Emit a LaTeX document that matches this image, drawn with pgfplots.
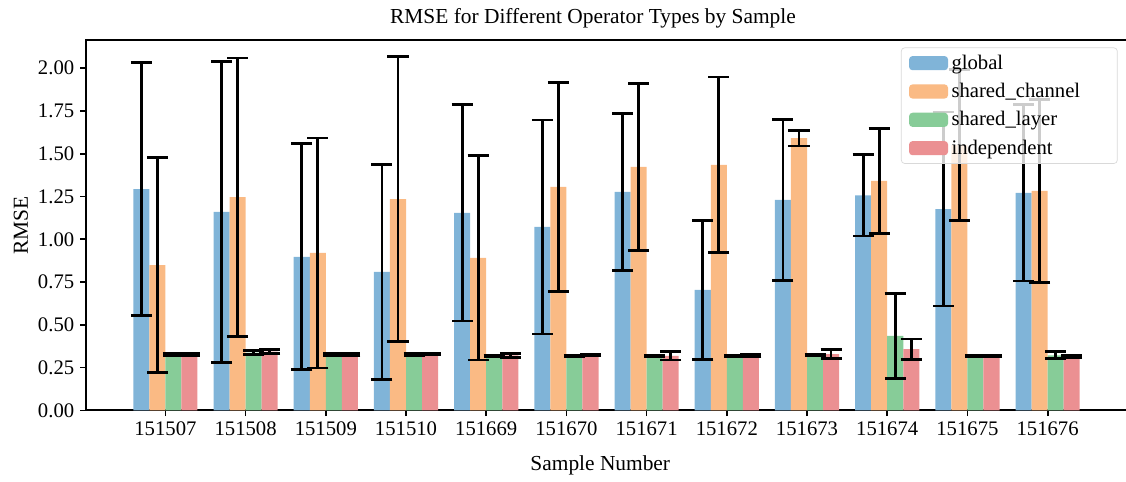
\documentclass[border=0pt]{standalone}
\usepackage{fontspec}
\setmainfont{Liberation Serif}
\usepackage{pgfplots}
\pgfplotsset{compat=1.18}
\definecolor{cblue}{RGB}{128,180,216}
\definecolor{corange}{RGB}{250,186,132}
\definecolor{cgreen}{RGB}{135,204,152}
\definecolor{cred}{RGB}{235,144,146}
\pgfplotsset{
  mybar/.style={ybar, bar width=0.2, bar shift=0pt, draw=none,
    legend image code/.code={\path[##1, draw=none, fill opacity=1] (0pt,-4.1pt) rectangle (22.6pt,4.1pt);}},
  errs/.style={forget plot, draw=none, mark=none,
    error bars/.cd, y dir=both, y explicit,
    error bar style={draw=black, line width=1.6pt},
    error mark options={draw=black, rotate=90, mark size=6.1pt, line width=1.6pt}}
}
\begin{document}
\begin{tikzpicture}
\begin{axis}[
  at={(0pt,0pt)}, anchor=south west,
  scale only axis, width=603.5pt, height=214.7pt,
  xmin=-0.99, xmax=11.99, ymin=0, ymax=2.165,
  xtick={0,1,2,3,4,5,6,7,8,9,10,11},
  xticklabels={151507,151508,151509,151510,151669,151670,151671,151672,151673,151674,151675,151676},
  ytick={0,0.25,0.5,0.75,1,1.25,1.5,1.75,2},
  yticklabel style={/pgf/number format/.cd, fixed, fixed zerofill, precision=2},
  /pgf/number format/assume math mode=true,
  tick label style={font=\fontsize{12}{14}\selectfont},
  tick align=outside, major tick length=3.3pt,
  xtick pos=bottom, ytick pos=left,
  tick style={black, line width=1pt},
  axis line style={line width=1.1pt},
  title={RMSE for Different Operator Types by Sample},
  title style={at={(0.487,1)}, anchor=base, yshift=3.4pt, font=\fontsize{12.4}{14}\selectfont},
  xlabel={Sample Number},
  xlabel style={at={(0.494,0)}, anchor=base, yshift=-34.8pt, font=\fontsize{12.4}{14}\selectfont},
  ylabel={RMSE},
  ylabel style={at={(-0.0625,0.5)}, anchor=center, font=\fontsize{12.4}{14}\selectfont},
  legend style={at={(0.991,0.980)}, anchor=north east, draw=black!15, fill=white, fill opacity=0.8, text opacity=1,
    rounded corners=2pt, font=\fontsize{12}{14}\selectfont, row sep=2.6pt, inner xsep=4.5pt, inner ysep=2pt},
  legend cell align=left,
]
\addplot[mybar, fill=cblue] coordinates {(-0.3,1.294) (0.7,1.160) (1.7,0.898) (2.7,0.809) (3.7,1.154) (4.7,1.072) (5.7,1.277) (6.7,0.704) (7.7,1.230) (8.7,1.257) (9.7,1.177) (10.7,1.272)};
\addlegendentry{global}
\addplot[mybar, fill=corange] coordinates {(-0.1,0.849) (0.9,1.247) (1.9,0.920) (2.9,1.235) (3.9,0.891) (4.9,1.306) (5.9,1.423) (6.9,1.435) (7.9,1.591) (8.9,1.341) (9.9,1.551) (10.9,1.283)};
\addlegendentry{shared\_channel\hspace*{15pt}}
\addplot[mybar, fill=cgreen] coordinates {(0.1,0.327) (1.1,0.338) (2.1,0.327) (3.1,0.327) (4.1,0.318) (5.1,0.318) (6.1,0.318) (7.1,0.318) (8.1,0.322) (9.1,0.435) (10.1,0.318) (11.1,0.322)};
\addlegendentry{shared\_layer}
\addplot[mybar, fill=cred] coordinates {(0.3,0.327) (1.3,0.343) (2.3,0.327) (3.3,0.330) (4.3,0.322) (5.3,0.322) (6.3,0.318) (7.3,0.322) (8.3,0.329) (9.3,0.358) (10.3,0.318) (11.3,0.316)};
\addlegendentry{independent}
\addplot[errs] coordinates {(-0.3,1.294) +- (0,0.740) (0.7,1.160) +- (0,0.880) (1.7,0.898) +- (0,0.661) (2.7,0.809) +- (0,0.628) (3.7,1.154) +- (0,0.632) (4.7,1.072) +- (0,0.626) (5.7,1.277) +- (0,0.459) (6.7,0.704) +- (0,0.407) (7.7,1.230) +- (0,0.470) (8.7,1.257) +- (0,0.237) (9.7,1.177) +- (0,0.567) (10.7,1.272) +- (0,0.515)};
\addplot[errs] coordinates {(-0.1,0.849) +- (0,0.628) (0.9,1.247) +- (0,0.813) (1.9,0.920) +- (0,0.672) (2.9,1.235) +- (0,0.834) (3.9,0.891) +- (0,0.597) (4.9,1.306) +- (0,0.611) (5.9,1.423) +- (0,0.488) (6.9,1.435) +- (0,0.514) (7.9,1.591) +- (0,0.045) (8.9,1.341) +- (0,0.306) (9.9,1.551) +- (0,0.443) (10.9,1.283) +- (0,0.535)};
\addplot[errs] coordinates {(0.1,0.327) +- (0,0.004) (1.1,0.338) +- (0,0.010) (2.1,0.327) +- (0,0.004) (3.1,0.327) +- (0,0.004) (4.1,0.318) +- (0,0.006) (5.1,0.318) +- (0,0.006) (6.1,0.318) +- (0,0.004) (7.1,0.318) +- (0,0.005) (8.1,0.322) +- (0,0.004) (9.1,0.435) +- (0,0.249) (10.1,0.318) +- (0,0.005) (11.1,0.322) +- (0,0.020)};
\addplot[errs] coordinates {(0.3,0.327) +- (0,0.004) (1.3,0.343) +- (0,0.012) (2.3,0.327) +- (0,0.004) (3.3,0.330) +- (0,0.004) (4.3,0.322) +- (0,0.012) (5.3,0.322) +- (0,0.004) (6.3,0.318) +- (0,0.024) (7.3,0.322) +- (0,0.005) (8.3,0.329) +- (0,0.026) (9.3,0.358) +- (0,0.059) (10.3,0.318) +- (0,0.005) (11.3,0.316) +- (0,0.005)};
\end{axis}
\pgfresetboundingbox
\path[use as bounding box] (-49.86pt,-41.0pt) rectangle (602.9pt,237.9pt);
\end{tikzpicture}
\end{document}
